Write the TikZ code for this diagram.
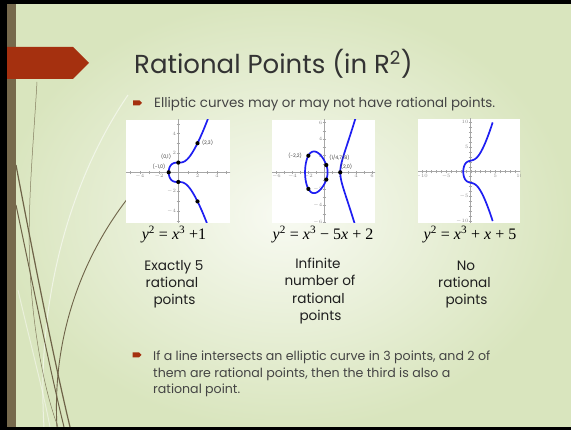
\documentclass[tikz,border=0pt]{standalone}
\usepackage{fontspec}
\setmainfont{Poppins}
\newfontfamily\eqfont{Liberation Serif}
\definecolor{bgin}{HTML}{F8FAF2}
\definecolor{bgout}{HTML}{D9E5BE}
\definecolor{stripbrown}{HTML}{76694C}
\definecolor{strand}{HTML}{6E6348}
\definecolor{bannerred}{HTML}{A5300F}
\definecolor{curveblue}{HTML}{1E1EF2}
\definecolor{textgray}{HTML}{444444}
\definecolor{titlegray}{HTML}{333333}
\definecolor{axisgray}{HTML}{A6A6A6}
\definecolor{ticktext}{HTML}{8A8A8A}
\definecolor{ptlab}{HTML}{404040}
\tikzset{
  axisline/.style={axisgray, line width=1.3pt},
  tickmark/.style={axisgray, line width=0.4pt},
  ticklab/.style={font=\fontsize{3.6}{4}\selectfont, text=ticktext, inner sep=0.6pt},
  ptlabel/.style={font=\fontsize{4.8}{5}\selectfont, text=ptlab, inner sep=0},
  ecurve/.style={curveblue, line width=1.7pt, line join=round},
  ratdot/.style={fill=black},
  bodytext/.style={font=\fontsize{13.4}{17}\selectfont, text=textgray, inner sep=0, anchor=base west},
  bodytexttwo/.style={font=\fontsize{12.6}{17}\selectfont, text=textgray, inner sep=0, anchor=base west},
  caption/.style={font=\fontsize{13.6}{17}\selectfont, text=black!88, inner sep=0, anchor=base},
  eqtext/.style={font=\eqfont\fontsize{16}{18}\selectfont, text=black, inner sep=0, anchor=base},
  graphbox/.style={fill=white},
}
\newcommand{\bulletmark}[2]{\fill[bannerred] (#1,#2-2.5) -- (#1+6.5,#2-2.5) -- (#1+9,#2) -- (#1+6.5,#2+2.5) -- (#1,#2+2.5) -- cycle;}
\begin{document}
\begin{tikzpicture}[x=1pt,y=-1pt]
\useasboundingbox (0,0) rectangle (571,430);
% background
\shade[inner color=bgin, outer color=bgout] (0,0) rectangle (571,430);
% decorative strands
\draw[white, opacity=0.55, line width=1pt] (128,95) .. controls (70,180) and (36,300) .. (44,427);
\draw[white, opacity=0.45, line width=1pt] (18,290) .. controls (32,350) and (44,395) .. (50,427);
\draw[strand, line width=0.5pt, opacity=0.8] (37,82) .. controls (33,150) and (27,210) .. (30,270) .. controls (33,330) and (44,390) .. (58,427);
\draw[strand, line width=1.2pt] (16,165) .. controls (34,260) and (54,360) .. (70,427);
\draw[strand, line width=1pt] (16,205) .. controls (34,290) and (50,370) .. (64,427);
\draw[strand, line width=0.9pt] (128,198) .. controls (80,260) and (52,340) .. (57,427);
% frame
\fill[black] (0,0) rectangle (7,430);
\fill[black] (0,0) rectangle (571,4);
\fill[black] (0,427) rectangle (571,430);
\fill[stripbrown] (7,4) rectangle (16,427);
% banner
\fill[bannerred] (7,47) -- (73,47) -- (89,63) -- (73,79) -- (7,79) -- cycle;
% title
\node[anchor=base west, font=\fontsize{26}{30}\selectfont, text=titlegray, inner sep=0] (title) at (134,73.5) {Rational Points (in R\textsuperscript{2})};
% bullet 1
\bulletmark{133}{103}
\node[bodytext] (b1) at (154,107.5) {Elliptic curves may or may not have rational points.};
% ---------------- graph 1
\fill[graphbox] (126,120) rectangle (230,223);
\begin{scope}
\clip (126,120) rectangle (230,223);
\begin{scope}[shift={(178.3,172.3)}, x=9.6pt, y=9.7pt]
\draw[axisline] (-5.6,0) -- (5.6,0);
\draw[axisline] (0,-5.5) -- (0,5.6);
\foreach \t in {-5,...,5} \draw[tickmark] (\t,-0.18) -- (\t,0.18);
\foreach \t in {-5,...,5} \draw[tickmark] (-0.18,\t) -- (0.18,\t);
\foreach \t in {-4,-2,2,4} \node[ticklab, below] at (\t,-0.15) {$\t$};
\foreach \t in {-4,-2,2,4} \node[ticklab, left] at (-0.15,\t) {$\t$};
\draw[ecurve] plot[domain=-1.995:2.02, samples=120, smooth] ({-1+(\x)*(\x)}, {(\x)*sqrt((-1+(\x)*(\x))^2-(-1+(\x)*(\x))+1)});
\foreach \p in {(-1,0),(0,1),(0,-1),(2,3),(2,-3)} \fill[ratdot] \p circle[radius=2.1pt];
\end{scope}
\end{scope}
\node[ptlabel] (l23) at (207.5,143) {(2,3)};
\node[ptlabel] (l01) at (166,157) {(0,1)};
\node[ptlabel] (lm10) at (159,167) {(−1,0)};
% ---------------- graph 2
\fill[graphbox] (272,120) rectangle (375,223);
\begin{scope}
\clip (272,120) rectangle (375,223);
\begin{scope}[shift={(324.3,172.3)}, x=7.97pt, y=8.3pt]
\draw[axisline] (-6.6,0) -- (6.6,0);
\draw[axisline] (0,-6.3) -- (0,6.4);
\foreach \t in {-6,...,6} \draw[tickmark] (\t,-0.2) -- (\t,0.2);
\foreach \t in {-6,...,6} \draw[tickmark] (-0.2,\t) -- (0.2,\t);
\foreach \t in {-6,-4,-2,2,4,6} \node[ticklab, below] at (\t,-0.15) {$\t$};
\foreach \t in {-6,-4,-2,2,4,6} \node[ticklab, left] at (-0.15,\t) {$\t$};
\draw[ecurve] plot[domain=-1.42:1.42, samples=100, smooth] ({2+(\x)*(\x)}, {(\x)*sqrt((2+(\x)*(\x))^2+2*(2+(\x)*(\x))-1)});
\draw[ecurve] plot[domain=0:360, samples=90, smooth] ({-1+1.41421*cos(\x)}, {sin(\x)*sqrt(2*(3-1.41421*cos(\x)))}) -- cycle;
\foreach \p in {(-2,2),(-2,-2),(0.25,0.875),(0.25,-0.875),(2,0)} \fill[ratdot] \p circle[radius=2.1pt];
\end{scope}
\end{scope}
\node[ptlabel] (lm22) at (295,156) {(−2,2)};
\node[ptlabel] (l1478) at (339.5,158) {(1/4,7/8)};
\node[ptlabel] (l20) at (346.5,167) {(2,0)};
% ---------------- graph 3
\fill[graphbox] (418,119) rectangle (520,223);
\begin{scope}
\clip (418,119) rectangle (520,223);
\begin{scope}[shift={(470.7,171.7)}, x=4.9pt, y=4.94pt]
\draw[axisline] (-11,0) -- (11,0);
\draw[axisline] (0,-11) -- (0,11);
\foreach \t in {-10,...,10} \draw[tickmark] (\t,-0.35) -- (\t,0.35);
\foreach \t in {-10,...,10} \draw[tickmark] (-0.35,\t) -- (0.35,\t);
\foreach \t in {-10,-5,5,10} \node[ticklab, below] at (\t,-0.3) {$\t$};
\foreach \t in {-10,-5,5,10} \node[ticklab, left] at (-0.3,\t) {$\t$};
\draw[ecurve] plot[domain=-2.45:2.45, samples=120, smooth] ({-1.516+(\x)*(\x)}, {(\x)*sqrt((-1.516+(\x)*(\x))^2-1.516*(-1.516+(\x)*(\x))+3.2983)});
\end{scope}
\end{scope}
% equations
\node[eqtext] (eq1) at (174,240) {\textit{y}\textsuperscript{2} = \textit{x}\textsuperscript{3} +1};
\node[eqtext] (eq2) at (323,240) {\textit{y}\textsuperscript{2} = \textit{x}\textsuperscript{3} − 5\textit{x} + 2};
\node[eqtext] (eq3) at (470,240) {\textit{y}\textsuperscript{2} = \textit{x}\textsuperscript{3} + \textit{x} + 5};
% captions
\node[caption] (c1a) at (174,271) {Exactly 5};
\node[caption] (c1b) at (172,288) {rational};
\node[caption] (c1c) at (174.5,305) {points};
\node[caption] (c2a) at (318,268.5) {Infinite};
\node[caption] (c2b) at (320,286) {number of};
\node[caption] (c2c) at (318.5,303.5) {rational};
\node[caption] (c2d) at (320.5,320.5) {points};
\node[caption] (c3a) at (466,271) {No};
\node[caption] (c3b) at (464.5,288) {rational};
\node[caption] (c3c) at (466.5,305) {points};
% bullet 2
\bulletmark{132.5}{355}
\node[bodytexttwo] (b2a) at (153,360.5) {If a line intersects an elliptic curve in 3 points, and 2 of};
\node[bodytexttwo] (b2b) at (153,377.5) {them are rational points, then the third is also a};
\node[bodytexttwo] (b2c) at (153,394) {rational point.};
\end{tikzpicture}
\end{document}
